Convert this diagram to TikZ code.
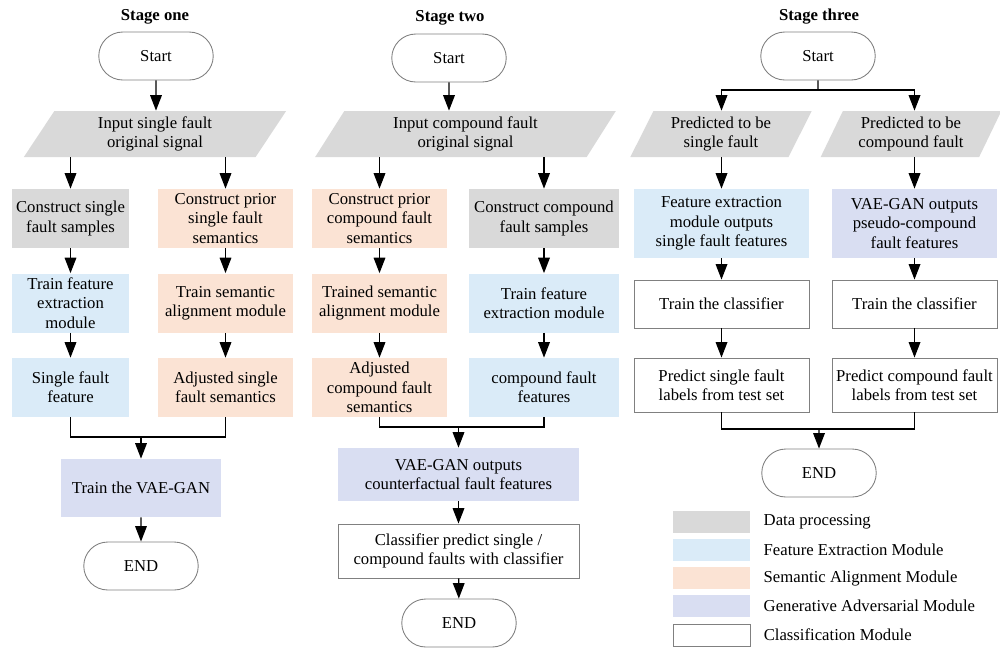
\documentclass[tikz,border=0pt]{standalone}
\usepackage{fontspec}
\setmainfont{Liberation Serif}
\usetikzlibrary{positioning,arrows.meta,shapes.geometric,shapes.misc}
\usepackage{xcolor}
\definecolor{datagray}{HTML}{D9D9D9}
\definecolor{featblue}{HTML}{DAEBF8}
\definecolor{semorange}{HTML}{FBE3D4}
\definecolor{ganpurple}{HTML}{D9DEF2}
\definecolor{edgegray}{HTML}{808080}

\tikzset{
  flow/.style={font=\fontsize{9.5}{11}\selectfont,align=center,inner sep=1pt},
  term/.style={flow,rounded rectangle,draw=edgegray,line width=0.5pt,minimum width=2.36cm,minimum height=0.96cm},
  inbox/.style={flow,trapezium,trapezium left angle=65,trapezium right angle=115,trapezium stretches=true,fill=datagray,minimum height=0.92cm},
  proc/.style={flow,rectangle,minimum height=1.18cm},
  clsbox/.style={proc,fill=white,draw=edgegray,line width=0.5pt},
  stagetitle/.style={font=\fontsize{9.5}{11}\selectfont\bfseries},
  arr/.style={-{Triangle[length=8.8pt,width=6.6pt]},line width=0.8pt},
  link/.style={line width=0.8pt},
  lgbox/.style={rectangle,minimum width=1.54cm,minimum height=0.44cm,inner sep=0pt},
  lgtext/.style={font=\fontsize{9.5}{11}\selectfont,anchor=west,inner sep=0pt},
}

\begin{document}
\begin{tikzpicture}[x=0.02cm,y=-0.02cm]
\useasboundingbox (0,0) rectangle (1000,650);
% stage one
\node[stagetitle] (t1) at (155,17) {Stage one};
\node[term] (st1) at (156,56) {Start};
\node[inbox,minimum width=5.28cm] (in1) at (155,134) {Input single fault\\original signal};
\node[proc,fill=datagray,minimum width=2.34cm] (cs1) at (70.5,218.5) {Construct single\\fault samples};
\node[proc,fill=semorange,minimum width=2.7cm] (cp1) at (225.5,218.5) {Construct prior\\single fault\\semantics};
\node[proc,fill=featblue,minimum width=2.34cm] (tf1) at (70.5,303) {Train feature\\extraction\\module};
\node[proc,fill=semorange,minimum width=2.7cm] (ts1) at (225.5,303) {Train semantic\\alignment module};
\node[proc,fill=featblue,minimum width=2.34cm] (sf1) at (70.5,387.5) {Single fault\\feature};
\node[proc,fill=semorange,minimum width=2.7cm] (as1) at (225.5,387.5) {Adjusted single\\fault semantics};
\node[proc,fill=ganpurple,minimum width=3.2cm,minimum height=1.16cm] (vg1) at (141,488) {Train the VAE-GAN};
\node[term] (en1) at (141,566) {END};
\coordinate (j1) at (141,437);
\draw[arr] (st1) -- (st1.south |- in1.north);
\draw[arr] (in1.south -| cs1.north) -- (cs1);
\draw[arr] (in1.south -| cp1.north) -- (cp1);
\draw[arr] (cs1) -- (tf1);
\draw[arr] (cp1) -- (ts1);
\draw[arr] (tf1) -- (sf1);
\draw[arr] (ts1) -- (as1);
\draw[link] (sf1.south) |- (j1) -| (as1.south);
\draw[arr] (j1) -- (vg1);
\draw[arr] (vg1) -- (en1);
% stage two
\node[stagetitle] (t2) at (450,18) {Stage two};
\node[term] (st2) at (449,58) {Start};
\node[inbox,minimum width=6.02cm] (in2) at (465.5,134) {Input compound fault\\original signal};
\node[proc,fill=semorange,minimum width=2.7cm] (cp2) at (379.5,218.5) {Construct prior\\compound fault\\semantics};
\node[proc,fill=datagray,minimum width=3cm] (cs2) at (544,218.5) {Construct compound\\fault samples};
\node[proc,fill=semorange,minimum width=2.7cm] (ts2) at (379.5,303) {Trained semantic\\alignment module};
\node[proc,fill=featblue,minimum width=3cm] (tf2) at (544,303) {Train feature\\extraction module};
\node[proc,fill=semorange,minimum width=2.7cm] (as2) at (379.5,387.5) {Adjusted\\compound fault\\semantics};
\node[proc,fill=featblue,minimum width=3cm] (cf2) at (544,387.5) {compound fault\\features};
\node[proc,fill=ganpurple,minimum width=4.82cm,minimum height=1.06cm] (vg2) at (458.5,474.5) {VAE-GAN outputs\\counterfactual fault features};
\node[clsbox,minimum width=4.82cm,minimum height=1.08cm] (cl2) at (458.5,551) {Classifier predict single /\\compound faults with classifier};
\node[term] (en2) at (459,623) {END};
\coordinate (j2) at (458.5,427);
\draw[arr] (st2) -- (st2.south |- in2.north);
\draw[arr] (in2.south -| cp2.north) -- (cp2);
\draw[arr] (in2.south -| cs2.north) -- (cs2);
\draw[arr] (cp2) -- (ts2);
\draw[arr] (cs2) -- (tf2);
\draw[arr] (ts2) -- (as2);
\draw[arr] (tf2) -- (cf2);
\draw[link] (as2.south) |- (j2) -| (cf2.south);
\draw[arr] (j2) -- (vg2);
\draw[arr] (vg2) -- (cl2);
\draw[arr] (cl2) -- (en2);
% stage three
\node[stagetitle] (t3) at (819,17) {Stage three};
\node[term] (st3) at (818,56) {Start};
\node[inbox,minimum width=3.64cm] (ps3) at (721,134) {Predicted to be\\single fault};
\node[inbox,minimum width=3.64cm] (pc3) at (911,134) {Predicted to be\\compound fault};
\node[proc,fill=featblue,minimum width=3.5cm,minimum height=1.38cm] (fe3) at (721.5,223.5) {Feature extraction\\module outputs\\single fault features};
\node[proc,fill=ganpurple,minimum width=3.3cm,minimum height=1.38cm] (vg3) at (914.5,223.5) {VAE-GAN outputs\\pseudo-compound\\fault features};
\node[clsbox,minimum width=3.5cm,minimum height=0.96cm] (tc3a) at (721.5,304) {Train the classifier};
\node[clsbox,minimum width=3.3cm,minimum height=0.96cm] (tc3b) at (914.5,304) {Train the classifier};
\node[clsbox,minimum width=3.5cm,minimum height=1.08cm] (pr3a) at (721.5,385) {Predict single fault\\labels from test set};
\node[clsbox,minimum width=3.3cm,minimum height=1.08cm] (pr3b) at (914.5,385) {Predict compound fault\\labels from test set};
\node[term] (en3) at (819,473) {END};
\coordinate (s3) at (818,90);
\coordinate (j3) at (819,429);
\draw[link] (st3) -- (s3);
\draw[arr] (s3) -| (fe3.north |- ps3.north);
\draw[arr] (s3) -| (vg3.north |- pc3.north);
\draw[arr] (ps3.south -| fe3.north) -- (fe3);
\draw[arr] (pc3.south -| vg3.north) -- (vg3);
\draw[arr] (fe3) -- (tc3a);
\draw[arr] (vg3) -- (tc3b);
\draw[arr] (tc3a) -- (pr3a);
\draw[arr] (tc3b) -- (pr3b);
\draw[link] (pr3a.south) |- (j3) -| (pr3b.south);
\draw[arr] (j3) -- (en3);
% legend
\node[lgbox,fill=datagray] (lg1) at (711.5,522) {};
\node[lgbox,fill=featblue] (lg2) at (711.5,550) {};
\node[lgbox,fill=semorange] (lg3) at (711.5,578) {};
\node[lgbox,fill=ganpurple] (lg4) at (711.5,606) {};
\node[lgbox,draw=edgegray,line width=0.5pt] (lg5) at (711.5,635) {};
\node[lgtext,right=0.26cm of lg1] (lt1) {Data processing};
\node[lgtext,right=0.26cm of lg2] (lt2) {Feature Extraction Module};
\node[lgtext,right=0.26cm of lg3] (lt3) {Semantic Alignment Module};
\node[lgtext,right=0.26cm of lg4] (lt4) {Generative Adversarial Module};
\node[lgtext,right=0.26cm of lg5] (lt5) {Classification Module};
\end{tikzpicture}
\end{document}
